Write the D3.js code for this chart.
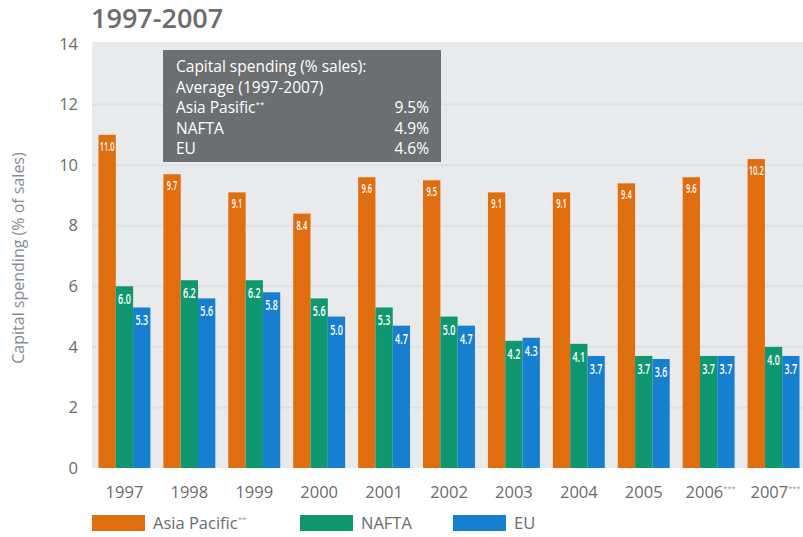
<!DOCTYPE html>
<html>
<head>
<meta charset="utf-8">
<script src="https://cdn.jsdelivr.net/npm/d3@7"></script>
<style>
  body { margin: 0; background: #ffffff; }
  svg { display: block; font-family: "Open Sans", "Noto Sans", sans-serif; }
</style>
</head>
<body>
<svg id="chart" width="803" height="537"></svg>
<script>
// Capital spending as % of sales, by region and year
const years = ["1997", "1998", "1999", "2000", "2001", "2002", "2003", "2004", "2005", "2006", "2007"];
const yearNotes = ["", "", "", "", "", "", "", "", "", "***", "***"];
const seriesNames = ["Asia Pacific", "NAFTA", "EU"];
const seriesNotes = ["**", "", ""];
const asiaPacific = [11.0, 9.7, 9.1, 8.4, 9.6, 9.5, 9.1, 9.1, 9.4, 9.6, 10.2];
const nafta = [6.0, 6.2, 6.2, 5.6, 5.3, 5.0, 4.2, 4.1, 3.7, 3.7, 4.0];
const eu = [5.3, 5.6, 5.8, 5.0, 4.7, 4.7, 4.3, 3.7, 3.6, 3.7, 3.7];
const yTicks = [0, 2, 4, 6, 8, 10, 12, 14];
const averageLabels = ["Asia Pasific", "NAFTA", "EU"];
const averageNotes = ["**", "", ""];
const averageValues = ["9.5%", "4.9%", "4.6%"];

const colors = ["#e06d0e", "#0f9870", "#177fcf"];
const seriesValues = [asiaPacific, nafta, eu];

const svg = d3.select("#chart");
const plot = { left: 92, right: 806, top: 42, bottom: 468 };

const x = d3.scaleBand().domain(years).range([plot.left, plot.right])
  .paddingInner(0.2).paddingOuter(0.1);
const xSub = d3.scaleBand().domain(seriesNames).range([0, x.bandwidth()]);
const y = d3.scaleLinear().domain([0, 14]).range([plot.bottom, plot.top + 2]);

// plot background
svg.append("rect")
  .attr("x", plot.left).attr("y", plot.top)
  .attr("width", 803 - plot.left).attr("height", plot.bottom - plot.top)
  .attr("fill", "#e9eaec");

// gridlines
svg.append("g").selectAll("line")
  .data(yTicks.filter(t => t > 0 && t < 14))
  .join("line")
  .attr("x1", plot.left).attr("x2", 803)
  .attr("y1", d => y(d)).attr("y2", d => y(d))
  .attr("stroke", "#dfe0e3").attr("stroke-width", 2);

// title
svg.append("text")
  .attr("x", 91).attr("y", 28)
  .attr("font-size", 27).attr("font-weight", 600)
  .attr("fill", "#6b6c6f")
  .text("1997-2007");

// y axis
const yAxis = d3.axisLeft(y).tickValues(yTicks).tickSize(0).tickPadding(14);
const yg = svg.append("g").attr("transform", `translate(${plot.left},0)`).call(yAxis);
yg.select(".domain").remove();
yg.selectAll("text").attr("font-size", 16.5).attr("fill", "#6a6b6e")
  .attr("font-family", "'Open Sans', 'Noto Sans', sans-serif");

svg.append("text")
  .attr("transform", "translate(24,258) rotate(-90)")
  .attr("text-anchor", "middle")
  .attr("font-size", 16).attr("fill", "#8a8b8e")
  .text("Capital spending (% of sales)");

// x axis
const xAxis = d3.axisBottom(x).tickSize(0).tickPadding(18).tickFormat(() => "");
const xg = svg.append("g").attr("transform", `translate(0,${plot.bottom})`).call(xAxis);
xg.select(".domain").remove();
xg.selectAll(".tick text").each(function(d, i) {
  const t = d3.select(this)
    .attr("font-size", 16.5).attr("fill", "#6a6b6e")
    .attr("font-family", "'Open Sans', 'Noto Sans', sans-serif");
  t.append("tspan").text(d);
  if (yearNotes[i]) {
    t.append("tspan").attr("font-size", 7.5).attr("dy", -7).attr("fill", "#9a9b9e").text(yearNotes[i]);
  }
});
// labels with notes sit slightly right of the band centre
xg.selectAll(".tick text").attr("dx", (d, i) => yearNotes[i] ? 2 : 0);

// bars
const groups = svg.append("g").selectAll("g")
  .data(years)
  .join("g")
  .attr("transform", d => `translate(${x(d)},0)`);

seriesNames.forEach((name, s) => {
  groups.append("rect")
    .attr("x", xSub(name))
    .attr("width", xSub.bandwidth())
    .attr("y", (d, i) => y(seriesValues[s][i]))
    .attr("height", (d, i) => y(0) - y(seriesValues[s][i]))
    .attr("fill", colors[s]);
  // value labels, horizontally condensed to fit inside each bar
  groups.append("text")
    .attr("transform", (d, i) =>
      `translate(${xSub(name) + xSub.bandwidth() / 2},${y(seriesValues[s][i]) + (s === 0 ? 16 : 18)}) scale(${s === 0 ? 0.6 : 0.64},1)`)
    .attr("text-anchor", "middle")
    .attr("font-weight", 600)
    .attr("font-size", s === 0 ? 12.5 : 14)
    .attr("fill", "#ffffff")
    .text((d, i) => seriesValues[s][i].toFixed(1));
});

// averages box
const box = svg.append("g").attr("transform", "translate(163,50)");
box.append("rect").attr("width", 278).attr("height", 112).attr("fill", "#6c6f72");
const lines = ["Capital spending (% sales):", "Average (1997-2007)"];
lines.forEach((l, i) => {
  box.append("text").attr("x", 13).attr("y", 22 + i * 20.5)
    .attr("font-size", 15.5).attr("font-weight", 500).attr("fill", "#ffffff").text(l);
});
averageLabels.forEach((l, i) => {
  const t = box.append("text").attr("x", 13).attr("y", 63 + i * 20.5)
    .attr("font-size", 15.5).attr("font-weight", 500).attr("fill", "#ffffff");
  t.append("tspan").text(l);
  if (averageNotes[i]) t.append("tspan").attr("font-size", 8).attr("dy", -6).text(averageNotes[i]);
  box.append("text").attr("x", 266).attr("y", 63 + i * 20.5)
    .attr("text-anchor", "end").attr("font-size", 15.5).attr("font-weight", 500).attr("fill", "#ffffff")
    .text(averageValues[i]);
});

// legend
const legendX = [92, 300, 453];
seriesNames.forEach((name, s) => {
  const g = svg.append("g").attr("transform", `translate(${legendX[s]},515)`);
  g.append("rect").attr("width", 53).attr("height", 16).attr("fill", colors[s]);
  const t = g.append("text").attr("x", 61).attr("y", 14)
    .attr("font-size", 16.5).attr("fill", "#6a6b6e");
  t.append("tspan").text(name);
  if (seriesNotes[s]) t.append("tspan").attr("font-size", 8).attr("dy", -7).attr("fill", "#9a9b9e").text(seriesNotes[s]);
});
</script>
</body>
</html>
